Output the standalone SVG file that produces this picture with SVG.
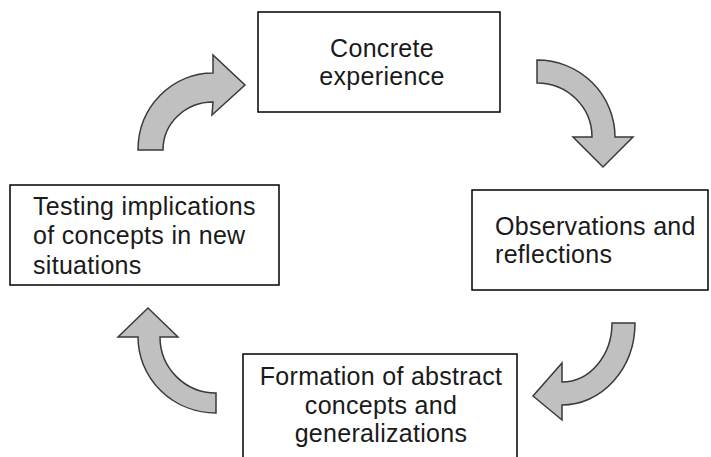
<svg xmlns="http://www.w3.org/2000/svg" width="711" height="457" viewBox="0 0 711 457">
<style>
.box{fill:#fff;stroke:#000;stroke-width:1.5}
.lbl{font-family:"Liberation Sans",Arial,sans-serif;font-size:25px;fill:#1a1a1a;letter-spacing:0.3px}
.arr{fill:#c0c0c0;stroke:#3a3a3a;stroke-width:1.5;stroke-linejoin:miter}
</style>
<rect width="711" height="457" fill="#fff"/>
<g id="connectors">
<path class="arr" d="M138,150 A75,77 0 0 1 213,73 L213,55 L245,85 L212,115 L213,102 A50,48 0 0 0 163,150 Z"/>
<path class="arr" d="M537,60 A78,77 0 0 1 615,137 L633,137 L603,167 L573,137 L592,137 A55,54 0 0 0 537,83 Z"/>
<path class="arr" d="M635,323 A73,82 0 0 1 562,405 L562,420 L533,396 L562,363 L562,382 A50,59 0 0 0 612,323 Z"/>
<path class="arr" d="M216,413 A78,76 0 0 1 138,337 L118,337 L148,308 L178,337 L160,337 A56,56 0 0 0 216,393 Z"/>
</g>
<g id="concrete">
<rect class="box" x="258" y="12" width="242" height="100"/>
<text class="lbl" x="382" y="57" text-anchor="middle">Concrete</text>
<text class="lbl" x="382" y="85" text-anchor="middle">experience</text>
</g>
<g id="observations">
<rect class="box" x="472" y="190" width="236" height="100"/>
<text class="lbl" x="495" y="235">Observations and</text>
<text class="lbl" x="495" y="263">reflections</text>
</g>
<g id="formation">
<rect class="box" x="243" y="354" width="274" height="110"/>
<text class="lbl" x="381" y="385" text-anchor="middle">Formation of abstract</text>
<text class="lbl" x="381" y="414" text-anchor="middle">concepts and</text>
<text class="lbl" x="381" y="442" text-anchor="middle">generalizations</text>
</g>
<g id="testing">
<rect class="box" x="10" y="185" width="269" height="100"/>
<text class="lbl" x="33" y="215">Testing implications</text>
<text class="lbl" x="33" y="244">of concepts in new</text>
<text class="lbl" x="33" y="274">situations</text>
</g>
</svg>
